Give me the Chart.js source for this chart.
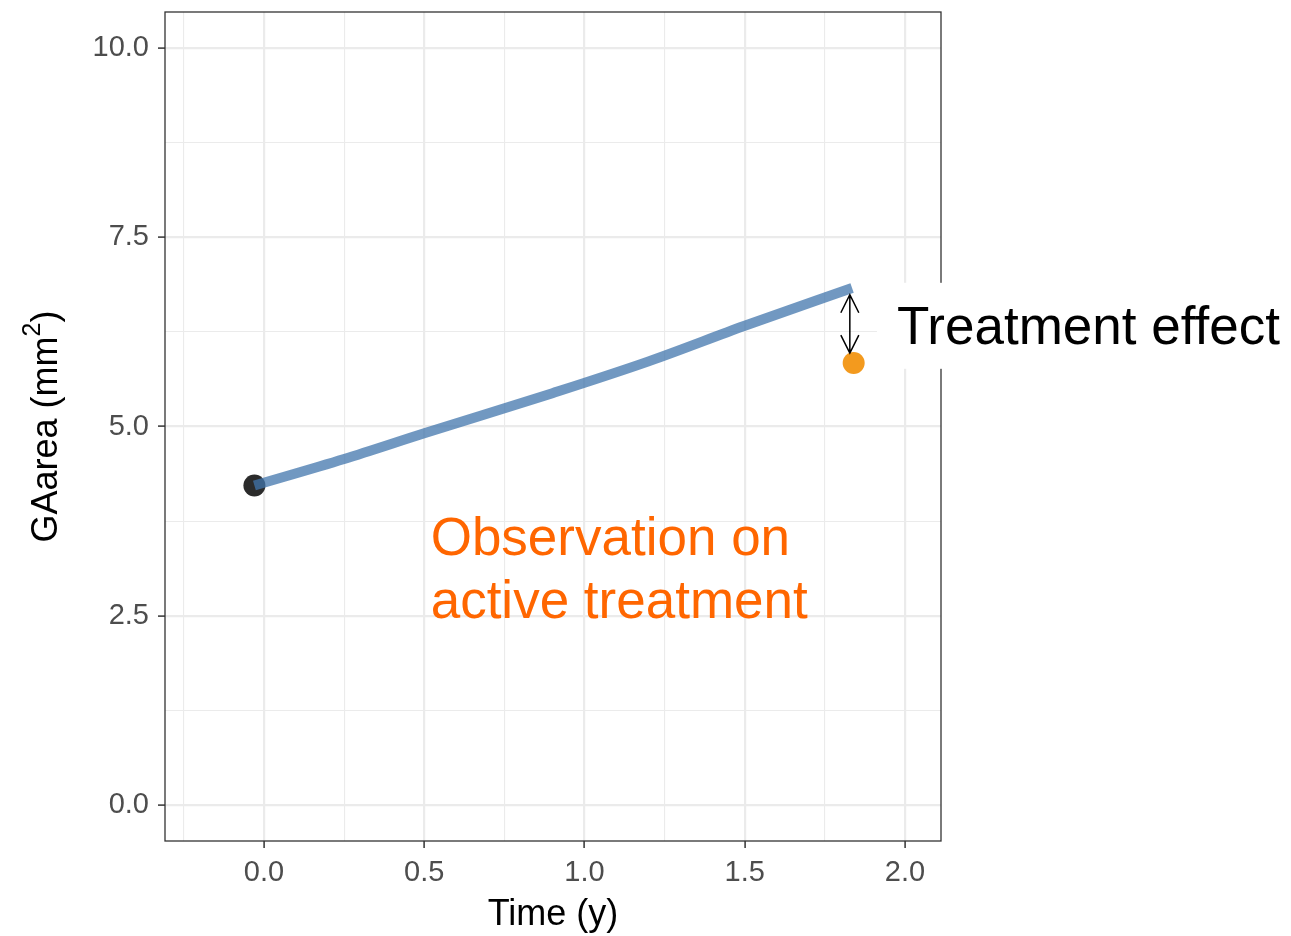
<!DOCTYPE html>
<html>
<head>
<meta charset="utf-8">
<script src="https://cdn.jsdelivr.net/npm/chart.js@4.4.1/dist/chart.umd.min.js"></script>
<style>
  html, body { margin:0; padding:0; background:#fff; }
  #wrap { width:1291px; height:936px; }
</style>
</head>
<body>
<div id="wrap"><canvas id="chart" width="1291" height="936"></canvas></div>
<script>
// fitted trajectory (years, mm^2)
const trendX = [-0.03, 0.25, 0.5, 0.9, 1.2, 1.5, 1.835];
const trendY = [4.22, 4.57, 4.91, 5.44, 5.86, 6.33, 6.83];
// observed points
const baselinePt = [{ x: -0.03, y: 4.22 }];
const treatedPt  = [{ x: 1.84, y: 5.84 }];
// treatment-effect arrow
const effectX = 1.828, effectTop = 6.74, effectBottom = 5.97;
// tick values
const xTicks = [-0.25, 0, 0.25, 0.5, 0.75, 1, 1.25, 1.5, 1.75, 2];
const yTicks = [0, 1.25, 2.5, 3.75, 5, 6.25, 7.5, 8.75, 10];

const FONT = "'Liberation Sans', Arial, sans-serif";
const isMajorX = v => Math.abs(v*2 - Math.round(v*2)) < 1e-6;
const isMajorY = v => Math.abs(v/2.5 - Math.round(v/2.5)) < 1e-6;

const annotations = {
  id: "annotations",
  afterDatasetsDraw(chart){
    const { ctx, chartArea: a, scales: { x, y } } = chart;
    ctx.save();
    // panel border
    ctx.strokeStyle = "#333333"; ctx.lineWidth = 1.3;
    ctx.strokeRect(a.left, a.top, a.right - a.left, a.bottom - a.top);

    // double arrow
    const ax = x.getPixelForValue(effectX);
    const y1 = y.getPixelForValue(effectTop), y2 = y.getPixelForValue(effectBottom);
    ctx.strokeStyle = "#000"; ctx.lineWidth = 1.5;
    ctx.beginPath();
    ctx.moveTo(ax, y1); ctx.lineTo(ax, y2);
    ctx.moveTo(ax - 9, y1 + 18); ctx.lineTo(ax, y1); ctx.lineTo(ax + 9, y1 + 18);
    ctx.moveTo(ax - 9, y2 - 18); ctx.lineTo(ax, y2); ctx.lineTo(ax + 9, y2 - 18);
    ctx.stroke();

    // label with white box
    const lx = x.getPixelForValue(1.975), ly = y.getPixelForValue(6.33);
    ctx.font = "53px " + FONT;
    const w = ctx.measureText("Treatment effect").width;
    ctx.fillStyle = "#fff";
    ctx.fillRect(lx - 20, ly - 43, w + 40, 86);
    ctx.fillStyle = "#000"; ctx.textBaseline = "middle"; ctx.textAlign = "left";
    ctx.fillText("Treatment effect", lx, ly + 4);

    // orange note
    ctx.fillStyle = "#FF6600";
    const ox = x.getPixelForValue(0.52);
    ctx.fillText("Observation on", ox, y.getPixelForValue(3.50));
    ctx.fillText("active treatment", ox, y.getPixelForValue(2.67));

    // axis titles
    ctx.fillStyle = "#000";
    ctx.font = "36px " + FONT; ctx.textAlign = "center";
    ctx.fillText("Time (y)", (a.left + a.right) / 2, 915);

    ctx.translate(47, (a.top + a.bottom) / 2);
    ctx.rotate(-Math.PI / 2);
    ctx.textAlign = "left";
    const p1 = "GAarea (mm", p2 = "2", p3 = ")";
    ctx.font = "36px " + FONT; const w1 = ctx.measureText(p1).width, w3 = ctx.measureText(p3).width;
    ctx.font = "25px " + FONT; const w2 = ctx.measureText(p2).width;
    let sx = -(w1 + w2 + w3) / 2;
    ctx.font = "36px " + FONT; ctx.fillText(p1, sx, 0); sx += w1;
    ctx.font = "25px " + FONT; ctx.fillText(p2, sx, -14); sx += w2;
    ctx.font = "36px " + FONT; ctx.fillText(p3, sx, 0);
    ctx.restore();
  }
};

new Chart(document.getElementById("chart").getContext("2d"), {
  type: "scatter",
  data: {
    datasets: [
      { type: "line", data: trendX.map((v,i)=>({ x: v, y: trendY[i] })),
        borderColor: "rgba(65,118,172,0.75)", borderWidth: 10, borderCapStyle: "butt",
        pointRadius: 0, tension: 0.4, cubicInterpolationMode: "monotone", order: 0 },
      { data: baselinePt, backgroundColor: "#2B2B2B", borderWidth: 0, pointRadius: 11, order: 1 },
      { data: treatedPt, backgroundColor: "#F39A1E", borderWidth: 0, pointRadius: 11, order: 0 }
    ]
  },
  options: {
    responsive: false, animation: false,
    layout: { padding: { top: 12, right: 350, left: 0, bottom: 0 } },
    plugins: { legend: { display: false }, tooltip: { enabled: false } },
    scales: {
      x: {
        type: "linear", min: -0.309, max: 2.1125,
        afterBuildTicks: s => { s.ticks = xTicks.map(v => ({ value: v })); },
        afterFit: s => { s.height = 95; s.paddingLeft = 0; s.paddingRight = 0; },
        border: { display: false },
        grid: {
          color: "#EBEBEB",
          lineWidth: c => isMajorX(c.tick.value) ? 2.2 : 1.1,
          tickLength: 7,
          tickColor: c => isMajorX(c.tick.value) ? "#333333" : "rgba(0,0,0,0)",
          tickWidth: 1.5
        },
        ticks: {
          autoSkip: false, maxRotation: 0, padding: 8,
          color: "#4D4D4D", font: { family: FONT, size: 29 },
          callback: v => isMajorX(v) ? v.toFixed(1) : ""
        }
      },
      y: {
        type: "linear", min: -0.475, max: 10.475,
        afterBuildTicks: s => { s.ticks = yTicks.map(v => ({ value: v })); },
        afterFit: s => { s.width = 165; s.paddingTop = 0; s.paddingBottom = 0; },
        border: { display: false },
        grid: {
          color: "#EBEBEB",
          lineWidth: c => isMajorY(c.tick.value) ? 2.2 : 1.1,
          tickLength: 7,
          tickColor: c => isMajorY(c.tick.value) ? "#333333" : "rgba(0,0,0,0)",
          tickWidth: 1.5
        },
        ticks: {
          autoSkip: false, padding: 9,
          color: "#4D4D4D", font: { family: FONT, size: 29 },
          callback: v => isMajorY(v) ? v.toFixed(1) : ""
        }
      }
    }
  },
  plugins: [annotations]
});
</script>
</body>
</html>
